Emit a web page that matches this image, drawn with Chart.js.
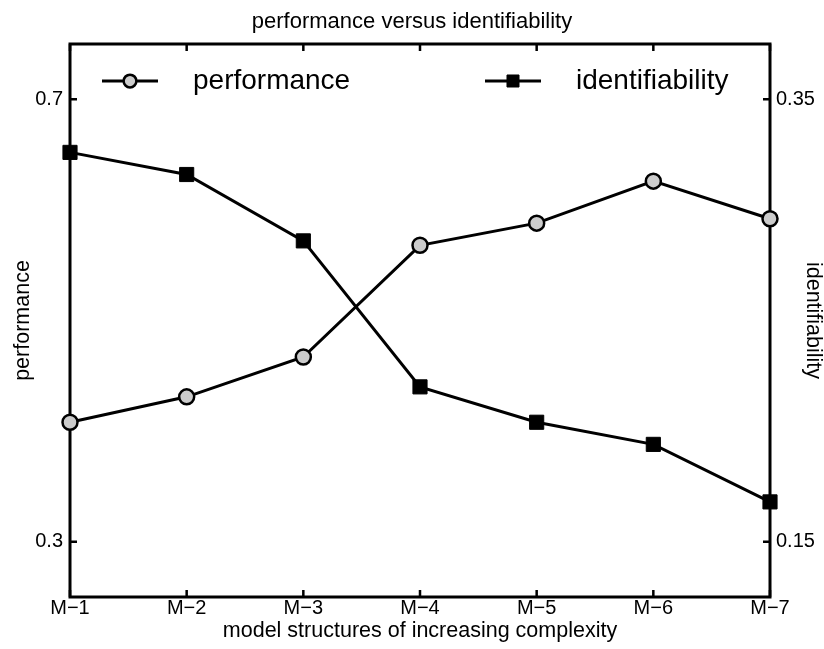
<!DOCTYPE html>
<html>
<head>
<meta charset="utf-8">
<title>performance versus identifiability</title>
<script src="https://cdn.jsdelivr.net/npm/chart.js@4.4.1/dist/chart.umd.min.js"></script>
<style>
  html, body { margin: 0; padding: 0; background: #fff; }
  #wrap { width: 824px; height: 649px; position: relative; }
</style>
</head>
<body>
<div id="wrap"><canvas id="chart"></canvas></div>
<script>
const models = ["M−1", "M−2", "M−3", "M−4", "M−5", "M−6", "M−7"];
const performance = [0.408, 0.431, 0.467, 0.568, 0.588, 0.626, 0.592];
const identifiability = [0.326, 0.316, 0.286, 0.220, 0.204, 0.194, 0.168];
const perfTicks = [0.3, 0.7];
const identTicks = [0.15, 0.35];
const perfRange = [0.25, 0.75];
const identRange = [0.125, 0.375];

const FONT = "'Liberation Sans', Arial, Helvetica, sans-serif";
Chart.defaults.font.family = FONT;
Chart.defaults.color = "#000";

// box with inward tick marks, like the matlab axes
const framePlugin = {
  id: "frame",
  beforeDatasetsDraw(chart) {
    const { ctx, chartArea: a, scales } = chart;
    const len = 7;
    ctx.save();
    ctx.strokeStyle = "#000";
    ctx.lineWidth = 3;
    ctx.strokeRect(a.left, a.top, a.right - a.left, a.bottom - a.top);
    ctx.lineWidth = 2.5;
    ctx.beginPath();
    scales.x.ticks.forEach((t, i) => {
      const x = scales.x.getPixelForTick(i);
      ctx.moveTo(x, a.bottom);
      ctx.lineTo(x, a.bottom - len);
      ctx.moveTo(x, a.top);
      ctx.lineTo(x, a.top + len);
    });
    scales.yPerf.ticks.forEach((t) => {
      const y = scales.yPerf.getPixelForValue(t.value);
      ctx.moveTo(a.left, y);
      ctx.lineTo(a.left + len, y);
    });
    scales.yIdent.ticks.forEach((t) => {
      const y = scales.yIdent.getPixelForValue(t.value);
      ctx.moveTo(a.right, y);
      ctx.lineTo(a.right - len, y);
    });
    ctx.stroke();
    ctx.restore();
  },
};

// legend sits inside the plot box
const boxLegend = {
  id: "boxLegend",
  afterDraw(chart) {
    const { ctx, chartArea: a } = chart;
    const spots = [32, 415];
    const y = a.top + 37;
    ctx.save();
    chart.data.datasets.forEach((ds, i) => {
      const x = a.left + spots[i];
      ctx.strokeStyle = "#000";
      ctx.lineWidth = 3;
      ctx.beginPath();
      ctx.moveTo(x, y);
      ctx.lineTo(x + 56, y);
      ctx.stroke();
      ctx.fillStyle = ds.pointBackgroundColor;
      ctx.lineWidth = ds.pointBorderWidth;
      Chart.helpers.drawPoint(ctx, {
        pointStyle: ds.pointStyle,
        radius: ds.pointRadius * 0.85,
        rotation: 0,
        borderWidth: ds.pointBorderWidth,
      }, x + 28, y);
      ctx.fillStyle = "#000";
      ctx.font = "28px " + FONT;
      ctx.textBaseline = "middle";
      ctx.textAlign = "left";
      ctx.fillText(ds.label, x + 91, y);
    });
    ctx.restore();
  },
};

new Chart(document.getElementById("chart"), {
  type: "line",
  data: {
    labels: models,
    datasets: [
      {
        label: "performance",
        data: performance,
        yAxisID: "yPerf",
        borderColor: "#000",
        borderWidth: 3,
        pointStyle: "circle",
        pointRadius: 7.5,
        pointBackgroundColor: "#cccccc",
        pointBorderColor: "#000",
        pointBorderWidth: 2.5,
        tension: 0,
        clip: false,
      },
      {
        label: "identifiability",
        data: identifiability,
        yAxisID: "yIdent",
        borderColor: "#000",
        borderWidth: 3,
        pointStyle: "rect",
        pointRadius: 10,
        pointBackgroundColor: "#000",
        pointBorderColor: "#000",
        pointBorderWidth: 1,
        tension: 0,
        clip: false,
      },
    ],
  },
  options: {
    responsive: true,
    maintainAspectRatio: false,
    animation: false,
    events: [],
    layout: { padding: 0 },
    plugins: {
      legend: { display: false },
      tooltip: { enabled: false },
      title: {
        display: true,
        text: "performance versus identifiability",
        color: "#000",
        font: { size: 22, weight: "normal", lineHeight: 1 },
        padding: { top: 11, bottom: 11 },
      },
    },
    scales: {
      x: {
        type: "category",
        offset: false,
        grid: { display: false, drawTicks: false },
        border: { display: false },
        ticks: { font: { size: 20, lineHeight: 1 }, padding: 1, maxRotation: 0, autoSkip: false },
        title: {
          display: true,
          text: "model structures of increasing complexity",
          font: { size: 21.5, lineHeight: 1 },
          padding: { top: 0, bottom: 7.5 },
        },
        afterFit(s) { s.height = 52; },
      },
      yPerf: {
        position: "left",
        min: perfRange[0],
        max: perfRange[1],
        afterBuildTicks(s) { s.ticks = perfTicks.map((v) => ({ value: v })); },
        grid: { display: false, drawTicks: false },
        border: { display: false },
        ticks: { font: { size: 20, lineHeight: 1 }, padding: 7, callback: (v) => String(v) },
        title: {
          display: true,
          text: "performance",
          font: { size: 21.5, lineHeight: 1 },
          padding: { top: 12, bottom: 0 },
        },
        afterFit(s) { s.width = 70; },
      },
      yIdent: {
        position: "right",
        min: identRange[0],
        max: identRange[1],
        afterBuildTicks(s) { s.ticks = identTicks.map((v) => ({ value: v })); },
        grid: { display: false, drawTicks: false },
        border: { display: false },
        ticks: { font: { size: 20, lineHeight: 1 }, padding: 6, callback: (v) => String(v) },
        title: {
          display: true,
          text: "identifiability",
          font: { size: 21.5, lineHeight: 1 },
          padding: { top: 0.5, bottom: 0 },
        },
        afterFit(s) { s.width = 54; },
      },
    },
  },
  plugins: [framePlugin, boxLegend],
});
</script>
</body>
</html>
